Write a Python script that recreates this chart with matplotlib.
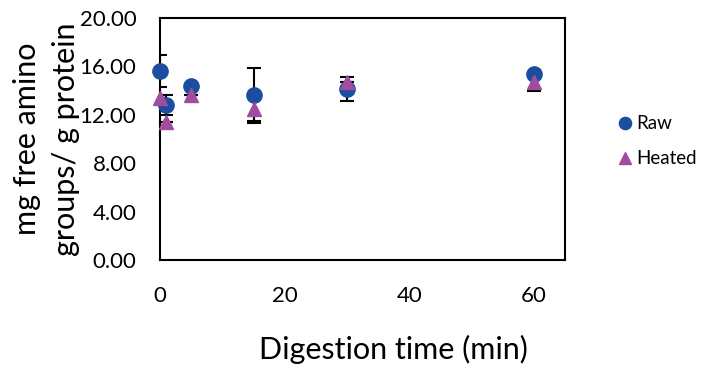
import matplotlib.pyplot as plt
import numpy as np

plt.rcParams['font.family'] = ['Lato', 'DejaVu Sans']

# Digestion time points (min)
tempo = np.array([0, 1, 5, 15, 30, 60])

# Free amino groups (mg / g protein)
raw = np.array([15.6, 12.8, 14.35, 13.6, 14.1, 15.4])
raw_err = np.array([1.35, 0.8, 0.0, 2.3, 1.0, 0.0])
heated = np.array([13.35, 11.4, 13.6, 12.45, 14.7, 14.7])
heated_err = np.array([0.0, 0.0, 0.0, 1.0, 0.0, 0.7])

blu = '#1c4ea0'
viola = '#a24c9f'

fig = plt.figure(figsize=(7.02, 3.72), dpi=100)
ax = fig.add_axes([0.228, 0.301, 0.577, 0.651])

ax.errorbar(tempo, raw, yerr=raw_err, fmt='none', ecolor='black',
            elinewidth=1.5, capsize=5, capthick=1.5, zorder=2)
ax.errorbar(tempo, heated, yerr=heated_err, fmt='none', ecolor='black',
            elinewidth=1.5, capsize=5, capthick=1.5, zorder=2)
ax.plot(tempo, raw, 'o', color=blu, markersize=11, label='Raw', zorder=3,
        clip_on=False)
ax.plot(tempo, heated, '^', color=viola, markersize=10, label='Heated', zorder=4,
        clip_on=False)

ax.set_xlim(0, 65)
ax.set_ylim(0, 20)
ax.set_xticks([0, 20, 40, 60])
ax.set_yticks(np.arange(0, 21, 4))
ax.set_yticklabels([f'{v:.2f}' for v in np.arange(0, 21, 4)])
ax.tick_params(axis='both', length=0, labelsize=16)
ax.tick_params(axis='x', pad=19)
ax.tick_params(axis='y', pad=17)
for s in ax.spines.values():
    s.set_linewidth(1.5)

ax.set_xlabel('Digestion time (min)', fontsize=22)
ax.xaxis.set_label_coords(0.575, -0.31)
ax.set_ylabel('mg free amino\ngroups/ g protein', fontsize=22, labelpad=0,
              linespacing=1.45)

ax.legend(loc='center left', bbox_to_anchor=(1.083, 0.49), frameon=False,
          fontsize=13.5, handletextpad=0.1, labelspacing=0.95, handlelength=1.0,
          markerscale=0.8)

fig.savefig('out.png', dpi=100)
